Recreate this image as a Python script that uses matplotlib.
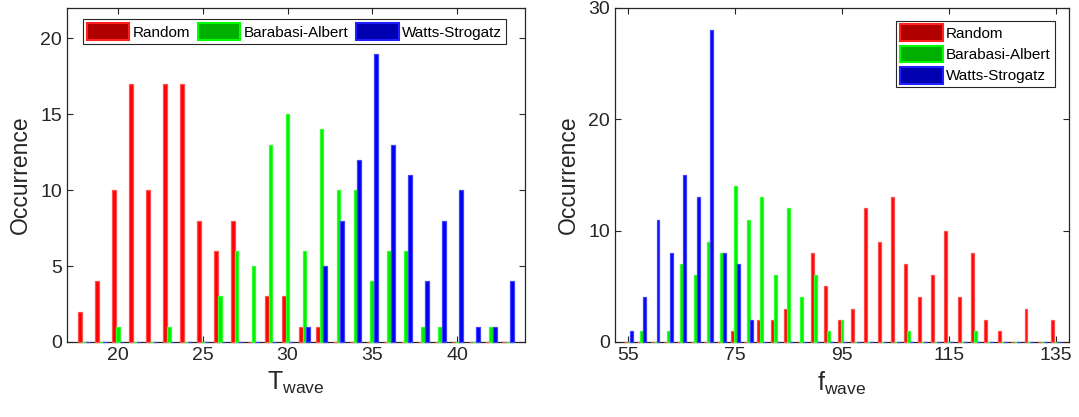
import numpy as np
import matplotlib.pyplot as plt
from matplotlib.patches import Patch

plt.rcParams["font.family"] = ["Liberation Sans", "DejaVu Sans"]
plt.rcParams["mathtext.fontset"] = "custom"
plt.rcParams["mathtext.rm"] = "Liberation Sans"
plt.rcParams["mathtext.it"] = "Liberation Sans"

# left panel: T_wave histogram (bins 18..43)
t_bins = np.arange(18, 44)
t_random = [2, 4, 10, 17, 10, 17, 17, 8, 6, 8, 0, 3, 3, 1, 1, 0, 0, 0, 0, 0, 0, 0, 0, 0, 0, 0]
t_ba = [0, 0, 1, 0, 0, 1, 0, 0, 3, 6, 5, 13, 15, 6, 14, 10, 10, 4, 6, 6, 1, 1, 0, 0, 1, 0]
t_ws = [0, 0, 0, 0, 0, 0, 0, 0, 0, 0, 0, 0, 0, 1, 5, 8, 12, 19, 13, 11, 4, 8, 10, 1, 1, 4]

# right panel: f_wave histogram (bins 55..135, step 2.5)
f_bins = 55 + 2.5 * np.arange(33)
f_random = [0, 0, 0, 0, 0, 0, 0, 0, 1, 0, 2, 2, 3, 0, 8, 5, 2, 3, 12, 9, 13, 7, 4, 6, 10, 4, 8, 2, 1, 0, 3, 0, 2]
f_ba = [0, 1, 0, 1, 7, 6, 9, 8, 14, 11, 13, 6, 12, 4, 6, 1, 2, 0, 0, 0, 0, 1, 0, 0, 0, 0, 1, 0, 0, 0, 0, 0, 0]
f_ws = [1, 4, 11, 8, 15, 13, 28, 8, 7, 2, 0, 0, 0, 0, 0, 0, 0, 0, 0, 0, 0, 0, 0, 0, 0, 0, 0, 0, 0, 0, 0, 0, 0]

labels = ["Random", "Barabasi-Albert", "Watts-Strogatz"]
faces = ["#ff0000", "#00ee00", "#0000ee"]
edges = ["#ff5050", "#30ff30", "#4040ff"]
legend_faces = ["#b00000", "#00b000", "#0000b0"]
legend_edges = ["#ff2020", "#00ff00", "#2020ff"]
text_color = "#262626"


def grouped(ax, x, series, step):
    w = 0.22 * step
    for i, vals in enumerate(series):
        ax.bar(x + (i - 1) * w, vals, width=w, color=faces[i],
               edgecolor=edges[i], linewidth=0.9, zorder=3, clip_on=False)


def style(ax):
    ax.tick_params(direction="in", top=True, right=True, labelsize=14,
                   colors=text_color, length=4, width=0.8)
    for s in ax.spines.values():
        s.set_color(text_color)
        s.set_linewidth(0.9)
    ax.set_ylabel("Occurrence", fontsize=16.5, color=text_color, labelpad=6)


fig = plt.figure(figsize=(10.79, 4.17), dpi=100)
ax1 = fig.add_axes([67 / 1079, 1 - 342 / 417, 458 / 1079, 334 / 417])
ax2 = fig.add_axes([615 / 1079, 1 - 342 / 417, 454 / 1079, 334 / 417])

grouped(ax1, t_bins, [t_random, t_ba, t_ws], 1.0)
ax1.set_xlim(17, 44)
ax1.set_ylim(0, 22)
ax1.set_xticks([20, 25, 30, 35, 40])
ax1.set_yticks([0, 5, 10, 15, 20])
ax1.set_xlabel(r"$\mathrm{T}_{\mathrm{wave}}$", fontsize=18, color=text_color)
style(ax1)

grouped(ax2, f_bins, [f_random, f_ba, f_ws], 2.5)
ax2.set_xlim(52.5, 137.5)
ax2.set_ylim(0, 30)
ax2.set_xticks([55, 75, 95, 115, 135])
ax2.set_yticks([0, 10, 20, 30])
ax2.set_xlabel(r"$\mathrm{f}_{\mathrm{wave}}$", fontsize=18, color=text_color)
style(ax2)

handles = [Patch(facecolor=legend_faces[i], edgecolor=legend_edges[i],
                 linewidth=1.5, label=labels[i]) for i in range(3)]
leg1 = ax1.legend(handles=handles, ncol=3, loc="upper left",
                  bbox_to_anchor=(0.018, 0.99), fontsize=11,
                  handlelength=2.8, handleheight=1.4, handletextpad=0.2,
                  columnspacing=0.5, borderpad=0.25, fancybox=False,
                  framealpha=1, edgecolor=text_color)
leg1.get_frame().set_linewidth(0.8)
leg2 = ax2.legend(handles=handles, loc="upper right",
                  bbox_to_anchor=(0.985, 0.985), fontsize=11,
                  handlelength=2.8, handleheight=1.3, handletextpad=0.2,
                  labelspacing=0.3, borderpad=0.25, fancybox=False,
                  framealpha=1, edgecolor=text_color)
leg2.get_frame().set_linewidth(0.8)

fig.savefig("out.png", dpi=100)
